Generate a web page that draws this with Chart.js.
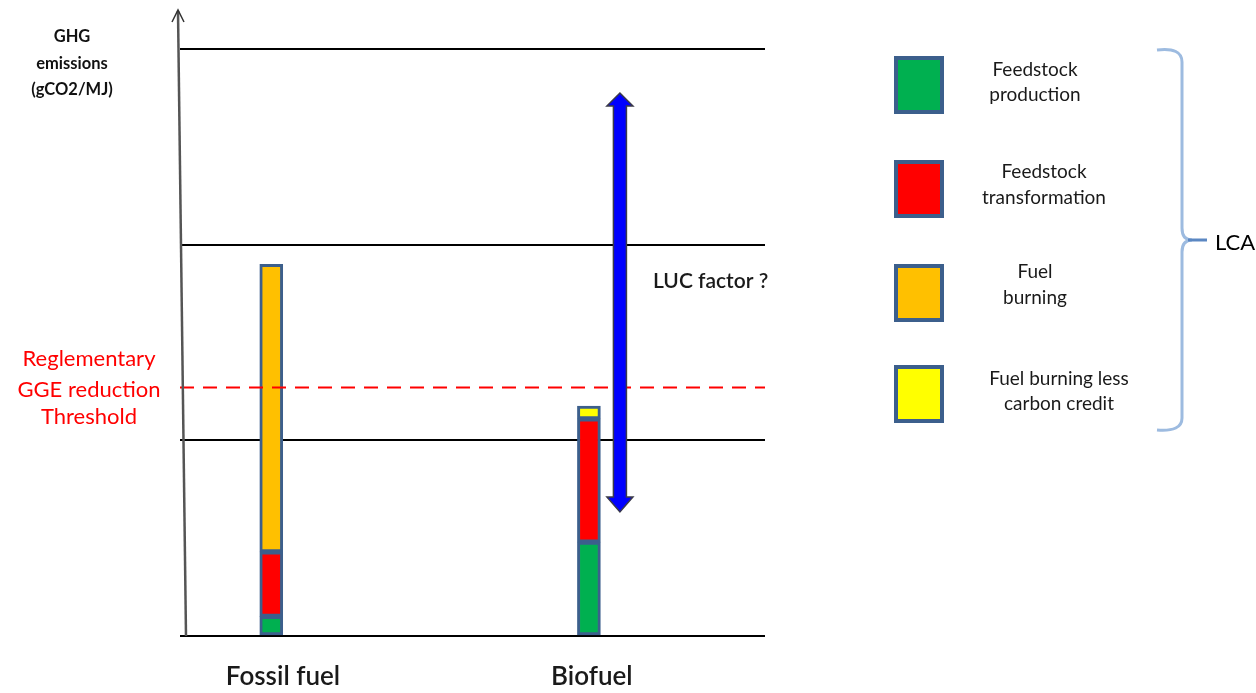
<!DOCTYPE html>
<html><head><meta charset="utf-8">
<script src="https://cdn.jsdelivr.net/npm/chart.js@4/dist/chart.umd.min.js"></script>
<style>html,body{margin:0;padding:0;background:#fff;overflow:hidden}#wrap{width:1256px;height:693px;position:relative}</style>
</head><body><div id="wrap"><canvas id="c" width="1256" height="693"></canvas></div>
<script>
// ---- data ----
const categories = ['Fossil fuel', 'Biofuel'];
const barPositions = [15.6, 69.9];
const labelPositions = [17.6, 70.4];
const seriesNames = ['Feedstock production', 'Feedstock transformation', 'Fuel burning', 'Fuel burning less carbon credit'];
const legendLines = [['Feedstock', 'production'], ['Feedstock', 'transformation'], ['Fuel', 'burning'], ['Fuel burning less', 'carbon credit']];
const feedstockProduction = [10, 48];
const feedstockTransformation = [33, 63];
const fuelBurning = [147, null];
const fuelBurningLessCredit = [null, 6.5];
const yTicks = [0, 100, 200, 300];
const thresholdValue = 127;
const thresholdSpan = [0, 100];
const lucArrowX = 75.2;
const lucRange = [63.4, 277.5];
const yAxisTitle = ['GHG', 'emissions', '(gCO2/MJ)'];
const thresholdTitle = ['Reglementary', 'GGE reduction', 'Threshold'];
const lucLabel = 'LUC factor ?';
const braceLabel = 'LCA';

// ---- styles ----
const seriesColors = ['#00B050', '#FF0000', '#FFC000', '#FFFF00'];
const outline = '#3C5F8C';
const FONT = 'Lato, "Open Sans", sans-serif';

const series = [feedstockProduction, feedstockTransformation, fuelBurning, fuelBurningLessCredit];
const datasets = series.map((vals, i) => ({
  type: 'bar',
  label: seriesNames[i],
  stack: 'lca',
  data: vals.map((v, j) => ({ x: barPositions[j], y: v })),
  backgroundColor: seriesColors[i],
  borderColor: outline,
  borderWidth: 3,
  borderSkipped: false,
  barThickness: 23,
  order: 1
}));
datasets.push({
  type: 'line',
  label: 'Threshold',
  stack: 'thr',
  data: thresholdSpan.map(x => ({ x: x, y: thresholdValue })),
  borderColor: '#FF0000',
  borderWidth: 2,
  borderDash: [14, 9],
  pointRadius: 0,
  fill: false,
  order: 0
});

const decor = {
  id: 'decor',
  afterDatasetsDraw(chart) {
    const ctx = chart.ctx, xs = chart.scales.x, ys = chart.scales.y;
    const cx = xs.getPixelForValue(lucArrowX);
    const yT = ys.getPixelForValue(lucRange[1]);
    const yB = ys.getPixelForValue(lucRange[0]);
    const sw = 6.5, hw = 13, hh = 13;
    ctx.save();
    ctx.beginPath();
    ctx.moveTo(cx, yT);
    ctx.lineTo(cx + hw, yT + hh);
    ctx.lineTo(cx + sw, yT + hh);
    ctx.lineTo(cx + sw, yB - hh - 2);
    ctx.lineTo(cx + hw, yB - hh - 2);
    ctx.lineTo(cx, yB);
    ctx.lineTo(cx - hw, yB - hh - 2);
    ctx.lineTo(cx - sw, yB - hh - 2);
    ctx.lineTo(cx - sw, yT + hh);
    ctx.lineTo(cx - hw, yT + hh);
    ctx.closePath();
    ctx.fillStyle = '#0000FF';
    ctx.fill();
    ctx.strokeStyle = '#3a3a4a';
    ctx.lineWidth = 1.5;
    ctx.stroke();
    ctx.restore();
  },
  afterDraw(chart) {
    const ctx = chart.ctx, ca = chart.chartArea;
    ctx.save();
    ctx.strokeStyle = '#555';
    ctx.lineWidth = 2.5;
    ctx.beginPath();
    ctx.moveTo(178, 11);
    ctx.lineTo(186, ca.bottom);
    ctx.stroke();
    ctx.lineWidth = 1.5;
    ctx.strokeStyle = '#333';
    ctx.beginPath();
    ctx.moveTo(172, 22);
    ctx.lineTo(178, 10);
    ctx.lineTo(184, 22);
    ctx.stroke();

    ctx.fillStyle = '#111';
    ctx.textAlign = 'center';
    ctx.textBaseline = 'middle';
    ctx.font = 'bold 16.5px ' + FONT;
    [37, 64, 90].forEach((y, i) => ctx.fillText(yAxisTitle[i], 72, y));

    ctx.fillStyle = '#FF0000';
    ctx.font = '22px ' + FONT;
    [359, 390, 417].forEach((y, i) => ctx.fillText(thresholdTitle[i], 89, y));

    ctx.fillStyle = '#1a1a1a';
    ctx.textAlign = 'left';
    ctx.font = '600 21px ' + FONT;
    ctx.fillText(lucLabel, 653, 281);

    const boxTops = [56, 160, 264, 365];
    const textCx = [1035, 1044, 1035, 1059];
    const lineYs = [[70, 95], [172, 198], [272, 298], [379, 404]];
    seriesNames.forEach((n, i) => {
      const bx = 894, by = boxTops[i], bw = 50, bh = 58;
      ctx.fillStyle = seriesColors[i];
      ctx.fillRect(bx, by, bw, bh);
      ctx.strokeStyle = outline;
      ctx.lineWidth = 4;
      ctx.strokeRect(bx + 2, by + 2, bw - 4, bh - 4);
      ctx.fillStyle = '#1a1a1a';
      ctx.textAlign = 'center';
      ctx.font = '19px ' + FONT;
      legendLines[i].forEach((t, k) => ctx.fillText(t, textCx[i], lineYs[i][k]));
    });

    ctx.strokeStyle = '#9DBBE0';
    ctx.lineWidth = 3;
    ctx.beginPath();
    ctx.moveTo(1157, 50);
    ctx.quadraticCurveTo(1182, 47, 1182, 62);
    ctx.lineTo(1182, 228);
    ctx.quadraticCurveTo(1182, 240, 1192, 240);
    ctx.quadraticCurveTo(1182, 240, 1182, 252);
    ctx.lineTo(1182, 418);
    ctx.quadraticCurveTo(1182, 432, 1157, 430);
    ctx.stroke();
    ctx.strokeStyle = '#5B87C2';
    ctx.beginPath();
    ctx.moveTo(1188, 240);
    ctx.lineTo(1207, 240);
    ctx.stroke();
    ctx.fillStyle = '#000';
    ctx.textAlign = 'left';
    ctx.font = '22px ' + FONT;
    ctx.fillText(braceLabel, 1215, 243);
    ctx.restore();
  }
};

new Chart(document.getElementById('c'), {
  type: 'bar',
  data: { datasets: datasets },
  options: {
    responsive: false,
    animation: false,
    devicePixelRatio: 1,
    layout: { padding: { left: 180, right: 491, top: 49, bottom: 0 } },
    plugins: { legend: { display: false }, tooltip: { enabled: false } },
    scales: {
      x: {
        type: 'linear', min: 0, max: 100, offset: false,
        grid: { display: false }, border: { display: false },
        afterBuildTicks: s => { s.ticks = labelPositions.map(v => ({ value: v })); },
        afterFit: s => { s.height = 57; },
        ticks: {
          autoSkip: false, maxRotation: 0, padding: 17, color: '#1a1a1a',
          font: { family: FONT, size: 26, weight: '600', lineHeight: 1.2 },
          callback: (v, i) => categories[i]
        }
      },
      y: {
        type: 'linear', min: 0, max: 300, stacked: true,
        grid: { color: '#000', lineWidth: 2, drawTicks: false },
        border: { display: false },
        afterBuildTicks: s => { s.ticks = yTicks.map(v => ({ value: v })); },
        ticks: { display: false }
      }
    }
  },
  plugins: [decor]
});
</script>
</body></html>
